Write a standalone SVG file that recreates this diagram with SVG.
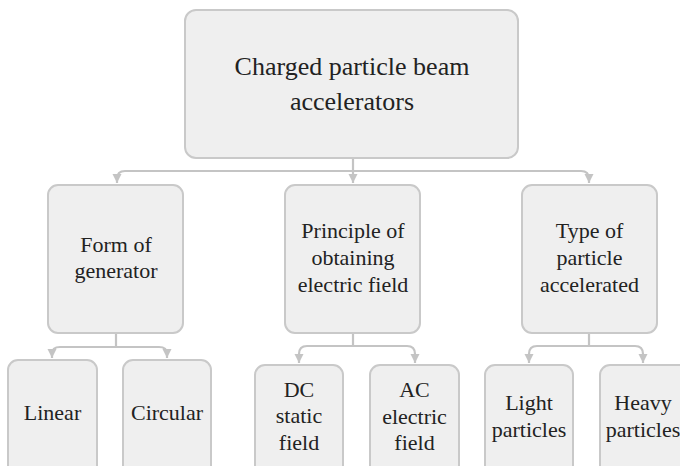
<svg xmlns="http://www.w3.org/2000/svg" width="680" height="466" viewBox="0 0 680 466">
<defs>
<marker id="ah" viewBox="0 0 10 10" refX="10" refY="5" markerWidth="9" markerHeight="11" markerUnits="userSpaceOnUse" orient="auto">
<path d="M0,0 L10,5 L0,10 z" fill="#c4c4c4"/>
</marker>
</defs>
<rect width="680" height="466" fill="#ffffff"/>
<g id="connectors" fill="none" stroke="#c4c4c4" stroke-width="2.2">
<path d="M353,158 V183" marker-end="url(#ah)"/>
<path d="M353,171 H125 Q117,171 117,179 V183" marker-end="url(#ah)"/>
<path d="M353,171 H581 Q589,171 589,179 V183" marker-end="url(#ah)"/>
<path d="M116,333 V347 H60 Q52,347 52,354 V358" marker-end="url(#ah)"/>
<path d="M116,347 H159 Q167,347 167,354 V358" marker-end="url(#ah)"/>
<path d="M353,333 V346 H307 Q299,346 299,354 V363" marker-end="url(#ah)"/>
<path d="M353,346 H407 Q415,346 415,354 V363" marker-end="url(#ah)"/>
<path d="M589,333 V346 H537 Q529,346 529,354 V363" marker-end="url(#ah)"/>
<path d="M589,346 H635 Q643,346 643,354 V363" marker-end="url(#ah)"/>
</g>
<g id="nodes" fill="#222" text-anchor="middle">
<g id="root">
<rect fill="#efefef" stroke="#c9c9c9" stroke-width="2" x="185" y="10" width="333" height="148" rx="11"/>
<text font-family="'Liberation Serif', 'Times New Roman', serif" font-size="26" x="352" y="75">Charged particle beam</text>
<text font-family="'Liberation Serif', 'Times New Roman', serif" font-size="26" x="352" y="110">accelerators</text>
</g>
<g id="form">
<rect fill="#efefef" stroke="#c9c9c9" stroke-width="2" x="48" y="185" width="135" height="148" rx="10"/>
<text font-family="'Liberation Serif', 'Times New Roman', serif" font-size="22" x="116" y="252">Form of</text>
<text font-family="'Liberation Serif', 'Times New Roman', serif" font-size="22" x="116" y="278">generator</text>
</g>
<g id="principle">
<rect fill="#efefef" stroke="#c9c9c9" stroke-width="2" x="285" y="185" width="135" height="148" rx="10"/>
<text font-family="'Liberation Serif', 'Times New Roman', serif" font-size="22" x="353" y="238">Principle of</text>
<text font-family="'Liberation Serif', 'Times New Roman', serif" font-size="22" x="353" y="265">obtaining</text>
<text font-family="'Liberation Serif', 'Times New Roman', serif" font-size="22" x="353" y="292">electric field</text>
</g>
<g id="type">
<rect fill="#efefef" stroke="#c9c9c9" stroke-width="2" x="522" y="185" width="135" height="148" rx="10"/>
<text font-family="'Liberation Serif', 'Times New Roman', serif" font-size="22" x="589.5" y="238">Type of</text>
<text font-family="'Liberation Serif', 'Times New Roman', serif" font-size="22" x="589.5" y="265">particle</text>
<text font-family="'Liberation Serif', 'Times New Roman', serif" font-size="22" x="589.5" y="292">accelerated</text>
</g>
<g id="linear">
<rect fill="#efefef" stroke="#c9c9c9" stroke-width="2" x="8" y="360" width="89" height="120" rx="10"/>
<text font-family="'Liberation Serif', 'Times New Roman', serif" font-size="22" x="52.5" y="420">Linear</text>
</g>
<g id="circular">
<rect fill="#efefef" stroke="#c9c9c9" stroke-width="2" x="123" y="360" width="88" height="120" rx="10"/>
<text font-family="'Liberation Serif', 'Times New Roman', serif" font-size="22" x="167" y="420">Circular</text>
</g>
<g id="dc">
<rect fill="#efefef" stroke="#c9c9c9" stroke-width="2" x="255" y="365" width="88" height="120" rx="10"/>
<text font-family="'Liberation Serif', 'Times New Roman', serif" font-size="22" x="299" y="397">DC</text>
<text font-family="'Liberation Serif', 'Times New Roman', serif" font-size="22" x="299" y="423">static</text>
<text font-family="'Liberation Serif', 'Times New Roman', serif" font-size="22" x="299" y="450">field</text>
</g>
<g id="ac">
<rect fill="#efefef" stroke="#c9c9c9" stroke-width="2" x="370" y="365" width="89" height="120" rx="10"/>
<text font-family="'Liberation Serif', 'Times New Roman', serif" font-size="22" x="414.5" y="397">AC</text>
<text font-family="'Liberation Serif', 'Times New Roman', serif" font-size="22" x="414.5" y="424">electric</text>
<text font-family="'Liberation Serif', 'Times New Roman', serif" font-size="22" x="414.5" y="450">field</text>
</g>
<g id="light">
<rect fill="#efefef" stroke="#c9c9c9" stroke-width="2" x="485" y="365" width="88" height="120" rx="10"/>
<text font-family="'Liberation Serif', 'Times New Roman', serif" font-size="22" x="529" y="410">Light</text>
<text font-family="'Liberation Serif', 'Times New Roman', serif" font-size="22" x="529" y="437">particles</text>
</g>
<g id="heavy">
<rect fill="#efefef" stroke="#c9c9c9" stroke-width="2" x="600" y="365" width="100" height="120" rx="10"/>
<text font-family="'Liberation Serif', 'Times New Roman', serif" font-size="22" x="643" y="410">Heavy</text>
<text font-family="'Liberation Serif', 'Times New Roman', serif" font-size="22" x="643" y="437">particles</text>
</g>
</g>
</svg>
